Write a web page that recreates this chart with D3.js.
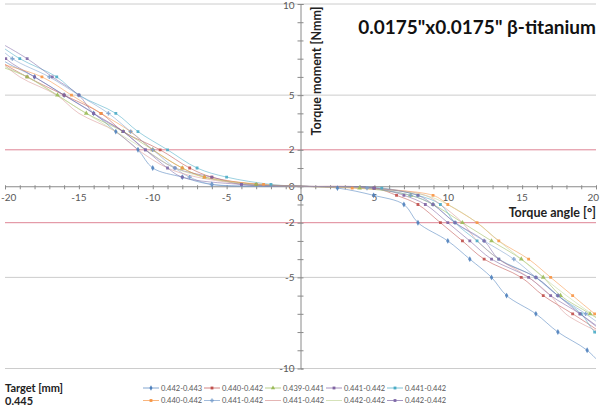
<!DOCTYPE html>
<head>
	<script src="https://cdn.jsdelivr.net/npm/d3@7"></script>
	<style>
		body { margin: 0; background: #fff; }
		svg { font-family: "Lato", sans-serif; }
		.tick-label { font-size: 10px; fill: #595959; }
		.axis-title { font-size: 12.5px; font-weight: bold; fill: #222; }
		.title { font-size: 19px; font-weight: bold; fill: #111; }
		.legend { font-size: 7.5px; fill: #595959; }
		.target { font-size: 11px; font-weight: bold; fill: #222; }
	</style>
</head>
<body>
	<script>
		// torque levels [Nmm] at which the angle was recorded
		var torqueLevels = [8, 7, 6, 5, 4, 3, 2, 1, 0.5, 0.1, 0, -0.1, -0.5, -1, -2, -3, -4, -5, -6, -7, -8, -9, -10];

		// torque angle [deg] for each series at the levels above
		var s1  = [-21.5, -20.3, -18.0, -16.0, -14.0, -12.5, -11.0, -10.0, -8.0, -6.0, 0, 2.5, 4.95, 7.0, 7.95, 9.97, 11.46, 12.93, 13.95, 15.93, 17.42, 19.4, 20.6];
		var s2  = [-22.0, -20.6, -18.5, -16.0, -13.5, -12.0, -9.5, -7.5, -6.0, -3.0, 0, 5.0, 6.5, 7.95, 9.47, 10.96, 12.43, 14.94, 16.43, 18.42, 20.3, 22.0, null];
		var s3  = [-23.0, -21.5, -18.5, -16.45, -14.5, -12.0, -10.0, -8.0, -6.5, -3.0, 0, 4.0, 7.45, 8.97, 10.96, 12.93, 14.94, 16.43, 17.6, 19.6, 21.5, null, null];
		var s4  = [-21.0, -19.95, -18.0, -16.0, -14.0, -12.0, -10.5, -8.5, -6.0, -4.0, 0, 4.95, 7.0, 8.45, 9.97, 11.46, 12.93, 15.44, 16.93, 18.92, 20.6, null, null];
		var s5  = [-20.8, -19.0, -16.5, -15.0, -12.5, -11.0, -9.0, -7.0, -5.0, -2.0, 0, 5.5, 7.95, 9.47, 10.46, 11.95, 13.42, 15.93, 17.42, 19.0, 19.91, 21.5, null];
		var s6  = [-22.5, -21.0, -17.5, -15.5, -13.5, -11.5, -10.0, -8.0, -6.5, -2.5, 0, 3.5, 8.97, 9.97, 11.95, 13.42, 15.44, 16.93, 18.42, 19.91, 21.5, null, null];
		var s7  = [-20.9, -19.5, -17.0, -15.0, -13.0, -11.5, -10.0, -8.5, -7.5, -6.0, 0, 4.5, 7.45, 8.97, 10.46, 12.43, 14.44, 15.93, 17.42, 19.3, 21.0, null, null];
		var s8  = [-21.8, -20.5, -19.0, -16.5, -15.0, -12.5, -11.0, -9.0, -7.0, -3.5, 0, 5.0, 8.45, 9.47, 10.96, 11.95, 13.42, 15.44, 16.93, 17.94, 20.2, null, null];
		var s9  = [-22.2, -21.0, -18.5, -16.5, -14.5, -12.5, -10.5, -8.5, -6.5, -3.5, 0, 4.5, 8.45, 9.97, 11.95, 13.42, 14.94, 16.43, 18.0, 19.7, 21.5, null, null];
		var s10 = [-20.6, -18.5, -16.8, -15.0, -14.0, -12.0, -10.5, -9.0, -8.0, -4.0, 0, 5.0, 7.95, 8.97, 10.46, 12.43, 13.42, 15.93, 17.42, 18.92, 20.5, null, null];

		var seriesNames = ["0.442-0.443", "0.440-0.442", "0.439-0.441", "0.441-0.442", "0.441-0.442",
		                   "0.440-0.442", "0.441-0.442", "0.441-0.442", "0.442-0.442", "0.442-0.442"];
		var yTickValues = [10, 5, 2, 0, -2, -5, -10];
		var xTickValues = [-20, -15, -10, -5, 0, 5, 10, 15, 20];

		var colors = ["#4F81BD", "#C0504D", "#9BBB59", "#8064A2", "#4BACC6", "#F79646", "#7BA0CD", "#D99694", "#C3D69B", "#7F6AA8"];
		var shapes = [d3.symbolDiamond, d3.symbolSquare, d3.symbolTriangle, d3.symbolSquare, d3.symbolSquare,
		              d3.symbolSquare, d3.symbolCross, null, null, d3.symbolSquare];

		var series = [s1, s2, s3, s4, s5, s6, s7, s8, s9, s10].map(function(arr, i) {
			return {
				name: seriesNames[i],
				color: colors[i],
				shape: shapes[i],
				points: arr.map(function(a, j) { return { angle: a, torque: torqueLevels[j] }; })
					.filter(function(p) { return p.angle !== null; })
			};
		});

		var width = 600, height = 406;
		var x = d3.scaleLinear().domain([-20, 20]).range([5, 596]);
		var y = d3.scaleLinear().domain([-10, 10]).range([368.5, 4]);

		var svg = d3.select("body").append("svg")
			.attr("width", width)
			.attr("height", height);

		svg.append("clipPath").attr("id", "plot")
			.append("rect")
			.attr("x", x(-20)).attr("y", y(10))
			.attr("width", x(20) - x(-20)).attr("height", y(-10) - y(10));

		// gridlines
		svg.selectAll(".grid")
			.data([10, 5, -5, -10])
			.enter().append("line")
			.attr("x1", x(-20)).attr("x2", x(20))
			.attr("y1", d => y(d)).attr("y2", d => y(d))
			.attr("stroke", "#cccccc");
		svg.selectAll(".limit")
			.data([2, -2])
			.enter().append("line")
			.attr("x1", x(-20)).attr("x2", x(20))
			.attr("y1", d => y(d)).attr("y2", d => y(d))
			.attr("stroke", "#de8494");

		// axes through the origin
		var xAxis = d3.axisBottom(x).tickValues(d3.range(-20, 21, 1)).tickSize(3).tickFormat("");
		var gx = svg.append("g").attr("transform", "translate(0," + y(0) + ")").call(xAxis);
		var yAxis = d3.axisRight(y).tickValues(d3.range(-10, 11, 1)).tickSize(3).tickFormat("");
		var gy = svg.append("g").attr("transform", "translate(" + x(0) + ",0)").call(yAxis);
		[gx, gy].forEach(function(g) {
			g.select(".domain").attr("stroke", "#8a8a8a");
			g.selectAll(".tick line").attr("stroke", "#8a8a8a");
		});
		gy.selectAll(".tick line").attr("x1", -3);
		gx.selectAll(".tick line").attr("y1", -1);

		svg.selectAll(".ylab")
			.data(yTickValues)
			.enter().append("text")
			.attr("class", "tick-label")
			.attr("x", x(0) - 6)
			.attr("y", d => Math.max(y(d) + 3.5, 9))
			.attr("text-anchor", "end")
			.text(d => d);
		svg.selectAll(".xlab")
			.data(xTickValues)
			.enter().append("text")
			.attr("class", "tick-label")
			.attr("x", d => d === -20 ? 1 : d === 20 ? 599 : x(d))
			.attr("y", y(0) + 15)
			.attr("text-anchor", d => d === -20 ? "start" : d === 20 ? "end" : "middle")
			.text(d => d);

		// series
		var line = d3.line()
			.x(d => x(d.angle))
			.y(d => y(d.torque))
			.curve(d3.curveCatmullRom.alpha(0.5));

		var plot = svg.append("g").attr("clip-path", "url(#plot)");
		series.forEach(function(s) {
			plot.append("path")
				.attr("d", line(s.points))
				.attr("fill", "none")
				.attr("stroke", s.color)
				.attr("stroke-opacity", 0.55)
				.attr("stroke-width", 1);
		});
		series.forEach(function(s) {
			if (!s.shape) return;
			plot.selectAll(null)
				.data(s.points.filter(p => p.torque !== 0))
				.enter().append("path")
				.attr("transform", d => "translate(" + x(d.angle) + "," + y(d.torque) + ")")
				.attr("d", d3.symbol().type(s.shape).size(s.shape === d3.symbolSquare ? 8 : 10))
				.attr("fill", s.color)
				.attr("fill-opacity", 0.9);
		});

		// titles
		svg.append("text").attr("class", "title")
			.attr("x", 596).attr("y", 34)
			.attr("text-anchor", "end")
			.text("0.0175\"x0.0175\" \u03b2-titanium");
		svg.append("text").attr("class", "axis-title")
			.attr("transform", "translate(" + 321 + "," + 71 + ") rotate(-90)")
			.attr("text-anchor", "middle")
			.text("Torque moment [Nmm]");
		svg.append("text").attr("class", "axis-title")
			.attr("x", 596).attr("y", 217)
			.attr("text-anchor", "end")
			.text("Torque angle [\u00b0]");

		svg.append("text").attr("class", "target").attr("x", 5).attr("y", 392).text("Target [mm]");
		svg.append("text").attr("class", "target").attr("x", 5).attr("y", 405).text("0.445");

		// legend, two rows of five
		var legend = svg.selectAll(".leg")
			.data(series)
			.enter().append("g")
			.attr("transform", (d, i) => "translate(" + (143 + (i % 5) * 61) + "," + (388 + Math.floor(i / 5) * 12.5) + ")");
		legend.append("line")
			.attr("x1", 0).attr("x2", 16)
			.attr("stroke", d => d.color)
			.attr("stroke-opacity", 0.7);
		legend.filter(d => d.shape).append("path")
			.attr("transform", "translate(8,0)")
			.attr("d", d => d3.symbol().type(d.shape).size(8)())
			.attr("fill", d => d.color);
		legend.append("text")
			.attr("class", "legend")
			.attr("x", 18).attr("y", 2.7)
			.text(d => d.name);
	</script>
</body>
</html>
